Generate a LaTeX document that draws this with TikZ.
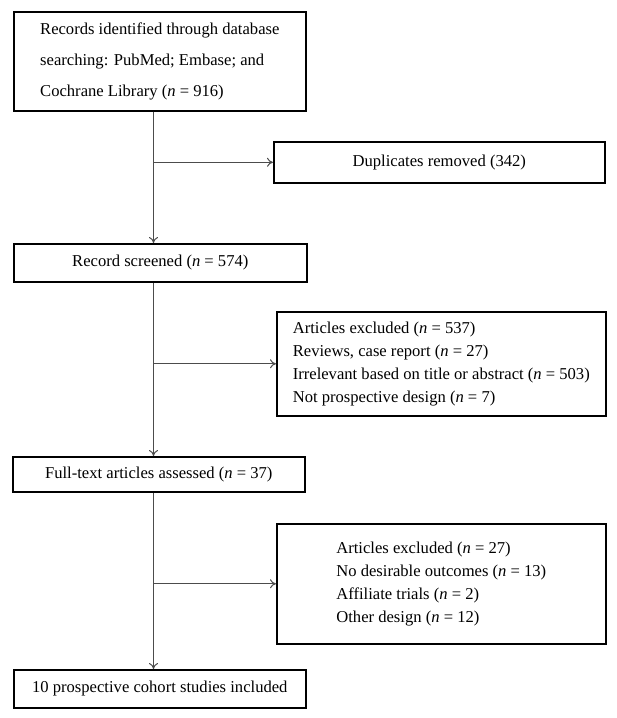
\documentclass[tikz,border=0pt]{standalone}
\usepackage{fontspec}
\setmainfont{Liberation Serif}
\usetikzlibrary{arrows.meta}
\begin{document}
\begin{tikzpicture}[x=1pt,y=-1pt,
  box/.style={draw=black, line width=1.6pt, anchor=north west, inner sep=0pt,
    font=\fontsize{16.6}{23}\selectfont},
  conn/.style={draw=black!70, line width=1pt, -{To[length=6pt,width=9pt]}}]
\useasboundingbox (0,0) rectangle (617,718);
\node[box, minimum width=292pt, minimum height=99pt, align=left,
  font=\fontsize{16.6}{31}\selectfont] (src) at (13,11)
  {Records identified through database\\searching: PubMed; Embase; and\\Cochrane Library (\textit{n} = 916)};
\node[box, minimum width=331pt, minimum height=41pt] (dup) at (273,141) {Duplicates removed (342)};
\node[box, minimum width=293pt, minimum height=38pt] (scr) at (13,243) {Record screened (\textit{n} = 574)};
\node[box, minimum width=329pt, minimum height=104pt, align=left] (ex1) at (276,311)
  {Articles excluded (\textit{n} = 537)\\Reviews, case report (\textit{n} = 27)\\Irrelevant based on title or abstract (\textit{n} = 503)\\Not prospective design (\textit{n} = 7)};
\node[box, minimum width=292pt, minimum height=35pt] (ful) at (12,456) {Full-text articles assessed (\textit{n} = 37)};
\node[box, minimum width=329pt, minimum height=120pt, align=left] (ex2) at (276,523)
  {Articles excluded (\textit{n} = 27)\\No desirable outcomes (\textit{n} = 13)\\Affiliate trials (\textit{n} = 2)\\Other design (\textit{n} = 12)};
\node[box, minimum width=292pt, minimum height=38pt] (inc) at (13,669) {10 prospective cohort studies included};
\coordinate (t) at (153.5,0);
\draw[conn] (src.south -| t) -- (scr.north -| t);
\draw[conn] (t |- dup.west) -- (dup.west);
\draw[conn] (scr.south -| t) -- (ful.north -| t);
\draw[conn] (t |- ex1.west) -- (ex1.west);
\draw[conn] (ful.south -| t) -- (inc.north -| t);
\draw[conn] (t |- ex2.west) -- (ex2.west);
\end{tikzpicture}
\end{document}
